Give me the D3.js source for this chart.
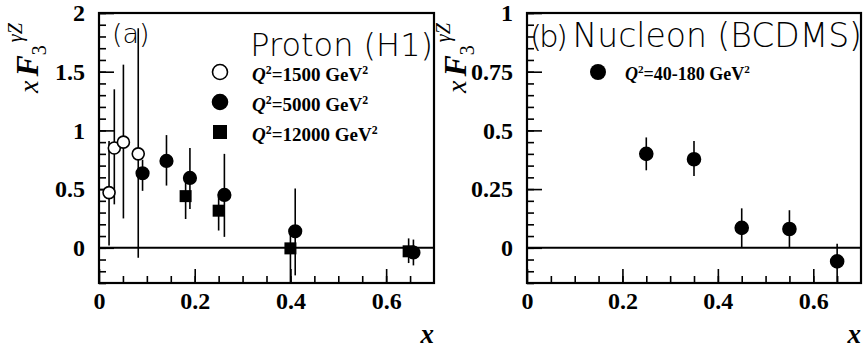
<!DOCTYPE html>
<html>
<head>
<meta charset="utf-8">
<script src="https://cdn.jsdelivr.net/npm/d3@7"></script>
<style>
  body { margin: 0; background: #fff; }
  svg { display: block; }
</style>
</head>
<body>
<div id="chart"></div>
<script>
// H1 proton, three Q^2 bins
let h1x1500 = [0.021, 0.032, 0.051, 0.082];
let h1y1500 = [0.47, 0.85, 0.90, 0.80];
let h1lo1500 = [0.02, 0.37, 0.25, -0.085];
let h1hi1500 = [0.91, 1.35, 1.56, 1.87];

let h1x5000 = [0.091, 0.141, 0.19, 0.262, 0.41, 0.657];
let h1y5000 = [0.635, 0.74, 0.595, 0.45, 0.14, -0.04];
let h1lo5000 = [0.485, 0.53, 0.33, 0.093, -0.235, -0.15];
let h1hi5000 = [0.75, 0.96, 0.85, 0.80, 0.505, 0.07];

let h1x12000 = [0.181, 0.25, 0.40, 0.647];
let h1y12000 = [0.44, 0.316, -0.005, -0.03];
let h1lo12000 = [0.245, 0.147, -0.3, -0.13];
let h1hi12000 = [0.63, 0.46, 0.16, 0.08];

// BCDMS nucleon
let bcdmsX = [0.25, 0.35, 0.45, 0.55, 0.65];
let bcdmsY = [0.40, 0.377, 0.085, 0.08, -0.058];
let bcdmsLo = [0.33, 0.306, 0.0, 0.0, -0.15];
let bcdmsHi = [0.47, 0.455, 0.168, 0.16, 0.017];

// axes
let xTicks = [0, 0.2, 0.4, 0.6];
let yTicksA = [0, 0.5, 1, 1.5, 2];
let yTicksB = [0, 0.25, 0.5, 0.75, 1];

let legendA = ["1500", "5000", "12000"];
let legendB = ["40-180"];

let W = 864, H = 352;
let svg = d3.select("#chart").append("svg")
    .attr("width", W).attr("height", H);

let serif = "Liberation Serif, Times New Roman, serif";
let sans = "DejaVu Sans, sans-serif";

function zip(xs, ys, lo, hi) {
    return xs.map((x, i) => ({x: x, y: ys[i], lo: lo[i], hi: hi[i]}));
}

function makePanel(left, width, yDomain, yMajor, yMinor) {
    let top = 13, height = 270;
    let g = svg.append("g").attr("transform", "translate(" + left + "," + top + ")");
    let x = d3.scaleLinear().domain([0, 0.7]).range([0, width]);
    let y = d3.scaleLinear().domain(yDomain).range([height, 0]);

    // minor ticks
    g.append("g").attr("transform", "translate(0," + height + ")")
        .call(d3.axisBottom(x).tickValues(d3.range(1, 14).map(i => i * 0.05)).tickSize(-7).tickFormat(""))
        .call(a => a.select(".domain").remove());
    g.append("g")
        .call(d3.axisLeft(y).tickValues(yMinor).tickSize(-7).tickFormat(""))
        .call(a => a.select(".domain").remove());

    // major ticks with labels
    g.append("g").attr("transform", "translate(0," + height + ")")
        .call(d3.axisBottom(x).tickValues(xTicks).tickSize(-14).tickPadding(9).tickFormat(d3.format("")))
        .call(a => a.select(".domain").remove());
    g.append("g")
        .call(d3.axisLeft(y).tickValues(yMajor).tickSize(-15).tickPadding(14).tickFormat(d3.format("")))
        .call(a => a.select(".domain").remove());

    g.selectAll(".tick line").attr("stroke", "#000").attr("stroke-width", 1.6);
    g.selectAll("g").attr("font-family", serif).attr("font-size", 24);
    g.selectAll(".tick text")
        .attr("fill", "#000")
        .attr("font-family", serif)
        .attr("font-weight", "bold")
        .attr("font-size", 24);

    // zero line + frame
    g.append("line")
        .attr("x1", 0).attr("x2", width)
        .attr("y1", y(0)).attr("y2", y(0))
        .attr("stroke", "#000").attr("stroke-width", 2);
    g.append("rect")
        .attr("width", width).attr("height", height)
        .attr("fill", "none").attr("stroke", "#000").attr("stroke-width", 2.2);

    // x label
    g.append("text")
        .attr("x", width).attr("y", 330)
        .attr("text-anchor", "end")
        .attr("font-family", serif).attr("font-style", "italic").attr("font-weight", "bold")
        .attr("font-size", 27)
        .text("x");

    return {g: g, x: x, y: y, height: height};
}

function yTitle(px, py) {
    let t = svg.append("text")
        .attr("transform", "translate(" + px + "," + py + ") rotate(-90)")
        .attr("font-family", serif);
    t.append("tspan").attr("font-style", "italic").attr("font-size", 28).text("x");
    t.append("tspan").attr("dx", 4).attr("font-style", "italic").attr("font-weight", "bold")
        .attr("font-size", 32).text("F");
    t.append("tspan").attr("dy", 8).attr("font-size", 20).text("3");
    t.append("tspan").attr("dx", 3).attr("dy", -24).attr("font-style", "italic")
        .attr("font-size", 20).text("γZ");
}

function drawPoints(p, data, shape, r) {
    let g = p.g.append("g");
    let clipped = d => Math.max(d, p.y.domain()[0]);
    g.selectAll("line.err").data(data).enter().append("line")
        .attr("x1", d => p.x(d.x)).attr("x2", d => p.x(d.x))
        .attr("y1", d => p.y(clipped(d.lo))).attr("y2", d => p.y(d.hi))
        .attr("stroke", "#000").attr("stroke-width", 1.6);
    if (shape == "square") {
        g.selectAll("rect").data(data).enter().append("rect")
            .attr("x", d => p.x(d.x) - r).attr("y", d => p.y(d.y) - r)
            .attr("width", 2 * r).attr("height", 2 * r)
            .attr("fill", "#000");
    } else {
        g.selectAll("circle").data(data).enter().append("circle")
            .attr("cx", d => p.x(d.x)).attr("cy", d => p.y(d.y))
            .attr("r", r)
            .attr("fill", shape == "open" ? "#fff" : "#000")
            .attr("stroke", "#000").attr("stroke-width", 1.6);
    }
}

function legendText(px, py, q, size) {
    let t = svg.append("text").attr("x", px).attr("y", py)
        .attr("font-family", serif).attr("font-weight", "bold").attr("font-size", size);
    t.append("tspan").attr("font-style", "italic").text("Q");
    t.append("tspan").attr("dy", -7).attr("font-size", size * 0.62).text("2");
    t.append("tspan").attr("dy", 7).text("=" + q + " GeV");
    t.append("tspan").attr("dy", -7).attr("font-size", size * 0.62).text("2");
}

// ---- panel (a)
let pa = makePanel(99, 335, [-0.3, 2], yTicksA, d3.range(-3, 21).map(i => i / 10));
drawPoints(pa, zip(h1x1500, h1y1500, h1lo1500, h1hi1500), "open", 6);
drawPoints(pa, zip(h1x12000, h1y12000, h1lo12000, h1hi12000), "square", 6);
drawPoints(pa, zip(h1x5000, h1y5000, h1lo5000, h1hi5000), "filled", 6.3);

pa.g.append("text").attr("x", 13).attr("y", 30)
    .attr("font-family", sans).attr("font-weight", 300).attr("font-size", 27).text("(a)");
pa.g.append("text").attr("x", 334).attr("y", 43).attr("text-anchor", "end")
    .attr("font-family", sans).attr("font-weight", 300).attr("font-size", 32).text("Proton (H1)");

// legend (a)
let shapesA = ["open", "filled", "square"];
legendA.forEach((q, i) => {
    let cy = 72 + i * 30;
    if (shapesA[i] == "square") {
        svg.append("rect").attr("x", 213).attr("y", cy - 7).attr("width", 14).attr("height", 14).attr("fill", "#000");
    } else {
        svg.append("circle").attr("cx", 220).attr("cy", cy).attr("r", 7.5)
            .attr("fill", shapesA[i] == "open" ? "#fff" : "#000")
            .attr("stroke", "#000").attr("stroke-width", 1.6);
    }
    legendText(252, cy + 9, q, 19);
});

yTitle(38, 93);

// ---- panel (b)
let pb = makePanel(527, 334, [-0.15, 1], yTicksB, d3.range(-3, 21).map(i => i / 20));
drawPoints(pb, zip(bcdmsX, bcdmsY, bcdmsLo, bcdmsHi), "filled", 6.5);

pb.g.append("text").attr("x", 3).attr("y", 34).attr("letter-spacing", -3)
    .attr("font-family", sans).attr("font-weight", 300).attr("font-size", 31).text("(b)");
pb.g.append("text").attr("x", 335).attr("y", 34).attr("text-anchor", "end")
    .attr("font-family", sans).attr("font-weight", 300).attr("font-size", 33).text("Nucleon (BCDMS)");

legendB.forEach((q, i) => {
    svg.append("circle").attr("cx", 598).attr("cy", 72 + i * 30).attr("r", 8).attr("fill", "#000");
    legendText(625, 80 + i * 30, q, 18);
});

yTitle(466, 93);
</script>
</body>
</html>
